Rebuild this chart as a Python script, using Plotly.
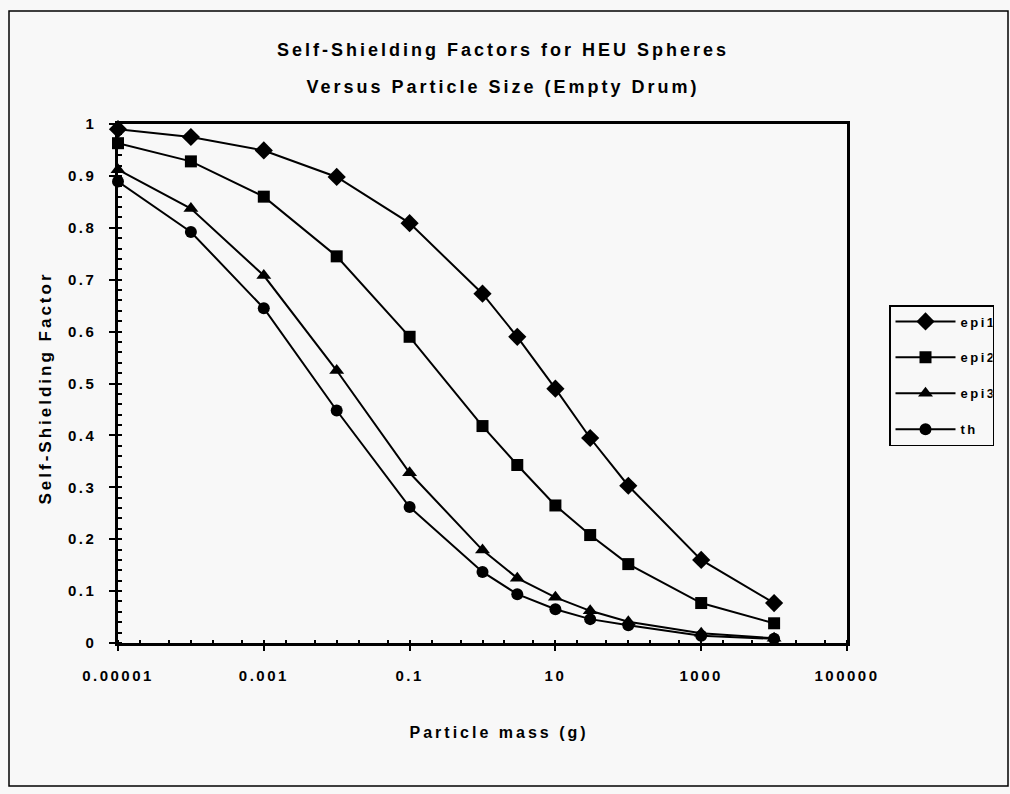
import plotly.graph_objects as go

# ---- data ----
mass_g = [1e-5, 1e-4, 1e-3, 1e-2, 0.1, 1, 3, 10, 30, 100, 1000, 10000]
epi1 = [0.990, 0.975, 0.949, 0.898, 0.809, 0.673, 0.590, 0.490, 0.395, 0.303, 0.160, 0.077]
epi2 = [0.963, 0.928, 0.860, 0.745, 0.590, 0.418, 0.343, 0.265, 0.208, 0.152, 0.077, 0.038]
epi3 = [0.912, 0.837, 0.708, 0.525, 0.328, 0.179, 0.125, 0.088, 0.062, 0.041, 0.019, 0.009]
th = [0.889, 0.792, 0.645, 0.448, 0.262, 0.137, 0.094, 0.065, 0.046, 0.034, 0.014, 0.008]

series_names = ["epi1", "epi2", "epi3", "th"]
series_values = [epi1, epi2, epi3, th]
series_symbols = ["diamond", "square", "triangle-up", "circle"]
series_sizes = [14, 12, 13, 12]

x_tick_vals = [1e-5, 1e-3, 1e-1, 1e1, 1e3, 1e5]
x_tick_text = ["0.00001", "0.001", "0.1", "10", "1000", "100000"]
y_tick_vals = [0, 0.1, 0.2, 0.3, 0.4, 0.5, 0.6, 0.7, 0.8, 0.9, 1.0]
y_tick_text = ["0", "0.1", "0.2", "0.3", "0.4", "0.5", "0.6", "0.7", "0.8", "0.9", "1"]

title_lines = ["Self-Shielding Factors for HEU Spheres", "Versus Particle Size (Empty Drum)"]
x_title = "Particle mass (g)"
y_title = "Self-Shielding Factor"

# ---- layout geometry (pixels) ----
W, H = 1010, 794
L, R, T, B = 118, 847, 124, 643
pw, ph = R - L, B - T


def px(x):
    return (x - L) / pw


def py(y):
    return (B - y) / ph


FONT = "Liberation Sans, Arial, sans-serif"
BG = "#f8f8f8"

fig = go.Figure()
for name, vals, sym, sz in zip(series_names, series_values, series_symbols, series_sizes):
    fig.add_trace(go.Scatter(
        x=mass_g, y=vals, name=name, legendgroup=name,
        mode="lines+markers",
        line=dict(color="black", width=2),
        marker=dict(symbol=sym, size=sz, color="black", line=dict(width=0)),
        cliponaxis=False,
    ))

axis_font = dict(family=FONT, size=15, color="black", weight="bold")

fig.update_layout(
    width=W, height=H,
    margin=dict(l=L, r=W - R, t=T, b=H - B, autoexpand=False),
    paper_bgcolor=BG, plot_bgcolor=BG,
    font=dict(family=FONT, color="black"),
    showlegend=True,
    legend=dict(
        x=px(889), y=py(305), xanchor="left", yanchor="top",
        bgcolor=BG, bordercolor="black", borderwidth=1.5,
        font=dict(family=FONT, size=13, color="black", weight="bold"),
        tracegroupgap=16, itemwidth=60,
    ),
    xaxis=dict(
        type="log", range=[-5, 5],
        tickvals=x_tick_vals, ticktext=x_tick_text,
        ticks="outside", ticklen=5, tickwidth=1.5, tickcolor="black",
        ticklabelstandoff=12,
        showgrid=False, zeroline=False,
        showline=True, linecolor="black", linewidth=2.5, mirror=True,
        tickfont=axis_font,
        minor=dict(ticks="inside", ticklen=3, tickcolor="black", showgrid=False),
    ),
    yaxis=dict(
        range=[0, 1],
        tickvals=y_tick_vals, ticktext=y_tick_text,
        ticks="outside", ticklen=6, tickwidth=1.5, tickcolor="black",
        ticklabelstandoff=10,
        showgrid=False, zeroline=False,
        showline=True, linecolor="black", linewidth=2.5, mirror=True,
        tickfont=axis_font,
        minor=dict(ticks="inside", ticklen=4, dtick=0.02, tickcolor="black", showgrid=False),
    ),
)

# titles as annotations
fig.add_annotation(text=title_lines[0], xref="paper", yref="paper",
                   x=px(503), y=py(50), xanchor="center", yanchor="middle",
                   showarrow=False, font=dict(family=FONT, size=18, color="black", weight="bold"))
fig.add_annotation(text=title_lines[1], xref="paper", yref="paper",
                   x=px(503), y=py(87), xanchor="center", yanchor="middle",
                   showarrow=False, font=dict(family=FONT, size=18, color="black", weight="bold"))
fig.add_annotation(text=x_title, xref="paper", yref="paper",
                   x=px(499), y=py(732), xanchor="center", yanchor="middle",
                   showarrow=False, font=dict(family=FONT, size=16, color="black", weight="bold"))
fig.add_annotation(text=y_title, xref="paper", yref="paper",
                   x=px(45), y=py(388), xanchor="center", yanchor="middle", textangle=-90,
                   showarrow=False, font=dict(family=FONT, size=17, color="black", weight="bold"))

# outer frame of the chart
fig.add_shape(type="rect", xref="paper", yref="paper",
              x0=px(9), x1=px(1008), y0=py(786), y1=py(11),
              line=dict(color="black", width=1.5), fillcolor="rgba(0,0,0,0)", layer="below")

# letter-spaced text, as in the scanned original
post_js = """
document.body.style.margin='0px';
var gd = document.getElementById('{plot_id}');
function spaceText(){
  gd.querySelectorAll('text.annotation-text').forEach(function(t){
    var s = t.textContent.indexOf('Self-Shielding Factors')===0 || t.textContent.indexOf('Versus')===0 ? '3px' : '3px';
    t.style.letterSpacing = s;
  });
  gd.querySelectorAll('g.xtick text, g.ytick text').forEach(function(t){ t.style.letterSpacing='2.5px'; });
  gd.querySelectorAll('text.legendtext').forEach(function(t){ t.style.letterSpacing='2.5px'; });
}
spaceText();
gd.on('plotly_afterplot', spaceText);
"""

fig.write_html("out.html", config={"displayModeBar": False}, post_script=post_js)
